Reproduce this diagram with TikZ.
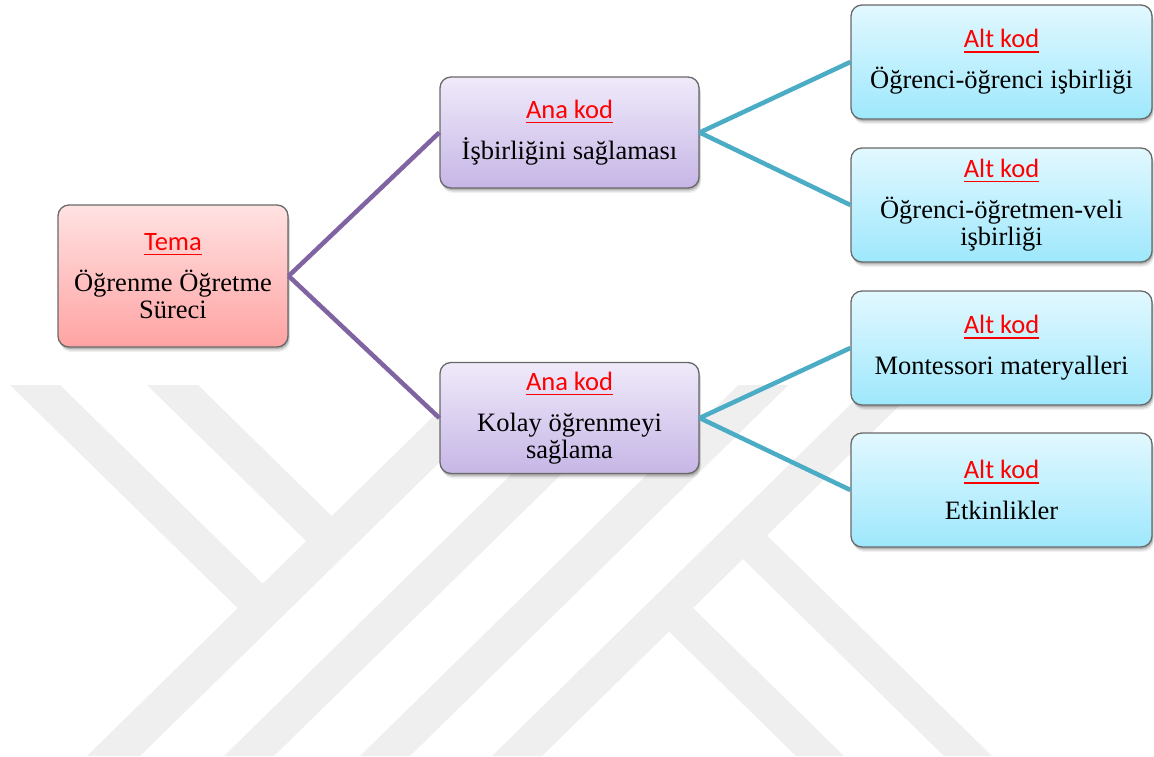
\documentclass[tikz,border=0pt]{standalone}
\usepackage{fontspec}
\setmainfont{Liberation Serif}
\newfontfamily\labelfont{Carlito}
\usetikzlibrary{shadows}

\definecolor{wmgrey}{RGB}{239,239,239}
\definecolor{edgegrey}{RGB}{105,105,105}
\definecolor{temaTop}{RGB}{255,226,226}
\definecolor{temaBot}{RGB}{255,163,163}
\definecolor{anaTop}{RGB}{240,234,250}
\definecolor{anaBot}{RGB}{198,182,230}
\definecolor{altTop}{RGB}{226,248,255}
\definecolor{altBot}{RGB}{158,232,252}
\definecolor{linkPurple}{RGB}{128,100,162}
\definecolor{linkCyan}{RGB}{75,172,198}
\definecolor{labelRed}{RGB}{255,0,0}

% underlined heading word, the rule kept out of the line height
\newsavebox\labelbox
\newcommand\redline[1]{\sbox\labelbox{#1}\smash{\rlap{\rule[-5pt]{\wd\labelbox}{1.8pt}}}\usebox\labelbox}
\newcommand\codelabel[1]{{\labelfont\color{labelRed}\redline{#1}}}
\newcommand\boxfont{\fontsize{26.5}{27}\selectfont}

\tikzset{
  wm/.style={fill=wmgrey},
  softshadow/.style={
    drop shadow={shadow xshift=1pt, shadow yshift=-2pt, opacity=0.16, fill=black},
    drop shadow={shadow xshift=1.5pt, shadow yshift=-3.5pt, opacity=0.10, fill=black},
    drop shadow={shadow xshift=2pt, shadow yshift=-5pt, opacity=0.06, fill=black}},
  box/.style={rounded corners=11pt, draw=edgegrey, line width=1.3pt,
    align=center, inner sep=0pt, softshadow, font=\boxfont},
  temabox/.style={box, minimum width=230pt, minimum height=142pt,
    top color=temaTop, bottom color=temaBot},
  anabox/.style={box, minimum width=259pt, minimum height=111pt,
    top color=anaTop, bottom color=anaBot},
  altbox/.style={box, minimum width=301pt, minimum height=114pt,
    top color=altTop, bottom color=altBot},
  purplelink/.style={draw=linkPurple, line width=4.5pt},
  cyanlink/.style={draw=linkCyan, line width=4.5pt},
}

\begin{document}
\lineskiplimit=-100pt
\begin{tikzpicture}[x=1pt,y=-1pt]
\useasboundingbox (0,0) rectangle (1154,756);
\fill[white] (0,0) rectangle (1154,756);

% background emblem: rising bands with falling arms
\fill[wm] (87,756) -- (140,756) -- (518.4,385) -- (465.4,385) -- cycle;
\fill[wm] (224,756) -- (274,756) -- (652.4,385) -- (602.4,385) -- cycle;
\fill[wm] (360,756) -- (410,756) -- (788.4,385) -- (738.4,385) -- cycle;
\fill[wm] (492,756) -- (542,756) -- (920.4,385) -- (870.4,385) -- cycle;
\fill[wm] (10,385) -- (60,385) -- (276,596.7) -- (251,621.2) -- cycle;
\fill[wm] (147,385) -- (198,385) -- (345,529.1) -- (319.5,554.1) -- cycle;
\fill[wm] (796,756) -- (844,756) -- (680.5,595.7) -- (656.5,619.2) -- cycle;
\fill[wm] (944,756) -- (992,756) -- (754.5,523.2) -- (730.5,546.7) -- cycle;

% theme
\node[temabox] (tema) at (173,276) {\codelabel{Tema}\\[14pt]Öğrenme Öğretme\\Süreci};

% main codes
\node[anabox] (ana1) at (569.5,132.5) {\codelabel{Ana kod}\\[14pt]İşbirliğini sağlaması};
\node[anabox] (ana2) at (569.5,418) {\codelabel{Ana kod}\\[14pt]Kolay öğrenmeyi\\sağlama};

% sub codes
\node[altbox] (alt1) at (1001.5,62) {\codelabel{Alt kod}\\[14pt]Öğrenci-öğrenci işbirliği};
\node[altbox] (alt2) at (1001.5,205) {\codelabel{Alt kod}\\[14pt]Öğrenci-öğretmen-veli\\işbirliği};
\node[altbox] (alt3) at (1001.5,348) {\codelabel{Alt kod}\\[14pt]Montessori materyalleri};
\node[altbox] (alt4) at (1001.5,490) {\codelabel{Alt kod}\\[14pt]Etkinlikler};

% links
\draw[purplelink] (tema.east) -- (ana1.west);
\draw[purplelink] (tema.east) -- (ana2.west);
\draw[cyanlink] (ana1.east) -- (alt1.west);
\draw[cyanlink] (ana1.east) -- (alt2.west);
\draw[cyanlink] (ana2.east) -- (alt3.west);
\draw[cyanlink] (ana2.east) -- (alt4.west);
\end{tikzpicture}
\end{document}
